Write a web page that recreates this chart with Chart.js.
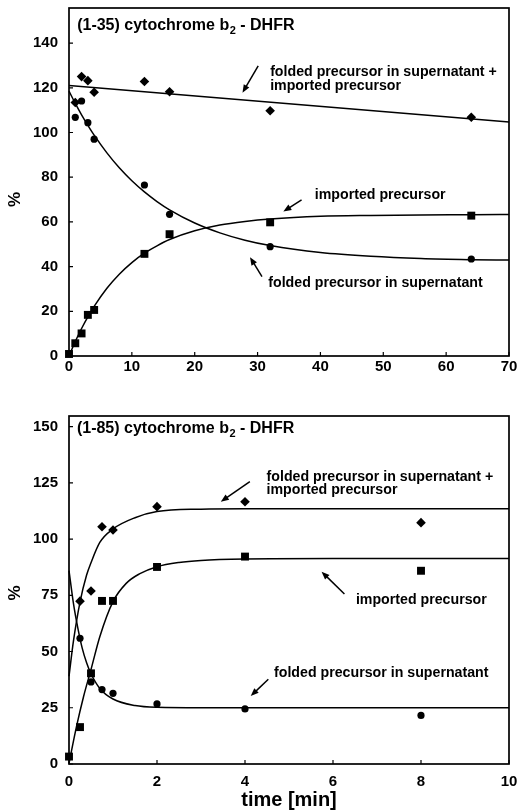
<!DOCTYPE html>
<html>
<head>
<meta charset="utf-8">
<script src="https://cdn.jsdelivr.net/npm/chart.js@4.4.0/dist/chart.umd.min.js"></script>
<style>
  html, body { margin: 0; padding: 0; background: #fff; }
  #wrap { position: relative; width: 518px; height: 812px; }
  canvas { position: absolute; left: 0; }
  #c1 { top: 0; }
  #c2 { top: 400px; }
</style>
</head>
<body>
<div id="wrap">
  <canvas id="c1" width="518" height="380"></canvas>
  <canvas id="c2" width="518" height="412"></canvas>
</div>
<script>
const FONT = '"Liberation Sans", Arial, Helvetica, sans-serif';

// ---- (1-35) cytochrome b2 - DHFR : time [min] vs %
const importedTimeA = [0, 1, 2, 3, 4, 12, 16, 32, 64];
const importedA     = [0.9, 5.7, 10.1, 18.4, 20.6, 45.7, 54.5, 59.8, 62.8];
const foldedTimeA   = [1, 2, 3, 4, 12, 16, 32, 64];
const foldedA       = [106.8, 114.1, 104.4, 97.0, 76.5, 63.4, 48.9, 43.4];
const totalTimeA    = [1, 2, 3, 4, 12, 16, 32, 64];
const totalA        = [113.4, 125.0, 123.2, 118.0, 122.8, 118.2, 109.7, 106.8];

// fitted curves
const fitTimeA       = [0, 1, 2, 3, 4, 6, 8, 10, 12, 14, 16, 20, 24, 28, 32, 40, 48, 56, 64, 70];
const importedFitA   = [0, 6.5, 12.3, 17.5, 22.2, 30.2, 36.6, 41.8, 46.0, 49.3, 52.1, 56.0, 58.6, 60.2, 61.3, 62.5, 62.9, 63.1, 63.2, 63.3];
const foldedFitA     = [118.5, 113.0, 107.9, 103.2, 98.8, 91.0, 84.2, 78.4, 73.4, 69.1, 65.4, 59.5, 55.1, 51.8, 49.4, 46.3, 44.6, 43.6, 43.1, 42.9];
const totalFitTimeA  = [0, 70];
const totalFitA      = [121.0, 104.7];

const xTicksA = [0, 10, 20, 30, 40, 50, 60, 70];
const yTicksA = [0, 20, 40, 60, 80, 100, 120, 140];

// ---- (1-85) cytochrome b2 - DHFR
const importedTimeB = [0, 0.25, 0.5, 0.75, 1, 2, 4, 8];
const importedB     = [3.3, 16.4, 40.3, 72.5, 72.5, 87.6, 92.2, 85.9];
const foldedTimeB   = [0.25, 0.5, 0.75, 1, 2, 4, 8];
const foldedB       = [55.9, 36.5, 33.1, 31.4, 26.7, 24.5, 21.6];
const totalTimeB    = [0.25, 0.5, 0.75, 1, 2, 4, 8];
const totalB        = [72.4, 76.9, 105.5, 104.0, 114.4, 116.6, 107.3];

const importedFitTimeB = [0, 0.17, 0.33, 0.5, 0.7, 1, 1.3, 1.6, 2, 2.5, 3, 4, 6, 10];
const importedFitB     = [0.3, 16.6, 29.9, 42.0, 56.6, 72.2, 80.3, 84.5, 87.7, 89.6, 90.5, 91.1, 91.3, 91.3];
const foldedFitTimeB   = [0, 0.1, 0.2, 0.3, 0.4, 0.5, 0.7, 1, 1.5, 2, 3, 10];
const foldedFitB       = [86.0, 71.5, 60.5, 51.5, 45.0, 40.1, 33.6, 28.9, 26.0, 25.2, 25.0, 25.0];
const totalFitTimeB    = [0, 0.1, 0.25, 0.4, 0.5, 0.7, 1, 1.5, 2, 3, 4, 10];
const totalFitB        = [39.0, 54.5, 72.0, 84.0, 89.5, 98.5, 104.5, 109.5, 112.2, 113.3, 113.5, 113.5];

const xTicksB = [0, 2, 4, 6, 8, 10];
const yTicksB = [0, 25, 50, 75, 100, 125, 150];

const pts = (xs, ys) => xs.map((x, i) => ({ x, y: ys[i] }));

function markers(xs, ys, style, r) {
  return {
    data: pts(xs, ys), showLine: false, pointStyle: style, pointRadius: r,
    pointBackgroundColor: '#000', pointBorderWidth: 0, clip: false
  };
}
function curve(xs, ys) {
  return {
    data: pts(xs, ys), showLine: true, pointRadius: 0, borderColor: '#000',
    borderWidth: 1.5, cubicInterpolationMode: 'monotone', fill: false, clip: false
  };
}

// frame, inward tick marks, title, y-axis symbol and arrow notes
const decor = {
  id: 'decor',
  beforeDatasetsDraw(chart, args, o) {
    const { ctx, chartArea: a, scales: { x, y } } = chart;
    ctx.save();
    ctx.strokeStyle = '#000';
    ctx.lineWidth = 1.2;
    ctx.beginPath();
    x.ticks.forEach(t => { const p = x.getPixelForValue(t.value); ctx.moveTo(p, a.bottom); ctx.lineTo(p, a.bottom - 4); });
    y.ticks.forEach(t => { const p = y.getPixelForValue(t.value); ctx.moveTo(a.left, p); ctx.lineTo(a.left + 4, p); });
    ctx.stroke();
    ctx.lineWidth = 1.7;
    ctx.strokeRect(a.left, a.top, a.right - a.left, a.bottom - a.top);
    ctx.restore();
  },
  afterDraw(chart, args, o) {
    const { ctx, scales: { x, y } } = chart;
    ctx.save();
    ctx.fillStyle = '#000';
    ctx.strokeStyle = '#000';
    // heading with subscript
    const hx = x.getPixelForValue(o.title.x), hy = y.getPixelForValue(o.title.y);
    ctx.textBaseline = 'alphabetic';
    ctx.textAlign = 'left';
    ctx.font = 'bold 16px ' + FONT;
    ctx.fillText(o.title.main, hx, hy);
    let w = ctx.measureText(o.title.main).width;
    ctx.font = 'bold 11px ' + FONT;
    ctx.fillText(o.title.sub, hx + w + 0.5, hy + 3.5);
    w += ctx.measureText(o.title.sub).width + 0.5;
    ctx.font = 'bold 16px ' + FONT;
    ctx.fillText(o.title.rest, hx + w, hy);
    // y-axis symbol
    ctx.save();
    ctx.translate(15, y.getPixelForValue(o.yTitle.y));
    ctx.rotate(-Math.PI / 2);
    ctx.font = 'bold 17px ' + FONT;
    ctx.textAlign = 'center';
    ctx.textBaseline = 'middle';
    ctx.fillText(o.yTitle.text, 0, 0);
    ctx.restore();
    // notes
    ctx.font = 'bold 14.2px ' + FONT;
    ctx.textBaseline = 'middle';
    o.notes.forEach(n => {
      const tx = x.getPixelForValue(n.x), ty = y.getPixelForValue(n.y);
      n.lines.forEach((line, i) => ctx.fillText(line, tx, ty + i * 13.5));
      const x1 = x.getPixelForValue(n.from[0]), y1 = y.getPixelForValue(n.from[1]);
      const x2 = x.getPixelForValue(n.to[0]), y2 = y.getPixelForValue(n.to[1]);
      const ang = Math.atan2(y2 - y1, x2 - x1);
      ctx.lineWidth = 1.5;
      ctx.beginPath();
      ctx.moveTo(x1, y1);
      ctx.lineTo(x2 - 5 * Math.cos(ang), y2 - 5 * Math.sin(ang));
      ctx.stroke();
      const hl = 8, hw = 3.2;
      ctx.beginPath();
      ctx.moveTo(x2, y2);
      ctx.lineTo(x2 - hl * Math.cos(ang) + hw * Math.sin(ang), y2 - hl * Math.sin(ang) - hw * Math.cos(ang));
      ctx.lineTo(x2 - hl * Math.cos(ang) - hw * Math.sin(ang), y2 - hl * Math.sin(ang) + hw * Math.cos(ang));
      ctx.closePath();
      ctx.fill();
    });
    ctx.restore();
  }
};

function makePlot(id, p) {
  const tickFont = { family: FONT, size: 15, weight: 'bold' };
  return new Chart(document.getElementById(id), {
    type: 'scatter',
    data: { datasets: p.datasets },
    options: {
      responsive: false,
      animation: false,
      events: [],
      layout: { padding: { left: 0, right: 9, top: p.top, bottom: 0 } },
      plugins: { legend: { display: false }, tooltip: { enabled: false }, decor: p.decor },
      scales: {
        x: {
          type: 'linear', min: p.xMin, max: p.xMax,
          afterBuildTicks: s => { s.ticks = p.xTicks.map(v => ({ value: v })); },
          afterFit: s => { s.height = p.xHeight; s.paddingLeft = 0; s.paddingRight = 0; },
          grid: { display: false }, border: { display: false },
          ticks: { font: tickFont, color: '#000', padding: p.xPad, maxRotation: 0, autoSkip: false },
          title: p.xTitle ? { display: true, text: p.xTitle, color: '#000',
                              font: { family: FONT, size: 20, weight: 'bold' }, padding: { top: 0, bottom: 0 } }
                          : { display: false }
        },
        y: {
          type: 'linear', min: 0, max: p.yMax,
          afterBuildTicks: s => { s.ticks = p.yTicks.map(v => ({ value: v })); },
          afterFit: s => { s.width = 69; s.paddingTop = 0; s.paddingBottom = 0; },
          grid: { display: false }, border: { display: false },
          ticks: { font: tickFont, color: '#000', padding: 3 }
        }
      }
    },
    plugins: [decor]
  });
}

makePlot('c1', {
  top: 8, xMin: 0, xMax: 70, yMax: 155.7, xTicks: xTicksA, yTicks: yTicksA, xHeight: 24, xPad: -6,
  datasets: [
    markers(importedTimeA, importedA, 'rect', 5.6),
    markers(foldedTimeA, foldedA, 'circle', 3.6),
    markers(totalTimeA, totalA, 'rectRot', 4.8),
    curve(fitTimeA, importedFitA),
    curve(fitTimeA, foldedFitA),
    curve(totalFitTimeA, totalFitA)
  ],
  decor: {
    title: { main: '(1-35) cytochrome b', sub: '2', rest: ' - DHFR', x: 1.3, y: 145.8 },
    yTitle: { text: '%', y: 70 },
    notes: [
      { lines: ['folded precursor in supernatant +', 'imported precursor'], x: 32.0, y: 127.0, from: [30.1, 129.8], to: [27.6, 117.8] },
      { lines: ['imported precursor'], x: 39.1, y: 72.1, from: [37.0, 69.8], to: [34.1, 64.6] },
      { lines: ['folded precursor in supernatant'], x: 31.7, y: 32.5, from: [30.7, 35.5], to: [28.8, 44.2] }
    ]
  }
});

makePlot('c2', {
  top: 16, xMin: 0, xMax: 10, yMax: 154.7, xTicks: xTicksB, yTicks: yTicksB, xHeight: 48, xPad: 1,
  xTitle: 'time [min]',
  datasets: [
    markers(importedTimeB, importedB, 'rect', 5.6),
    markers(foldedTimeB, foldedB, 'circle', 3.6),
    markers(totalTimeB, totalB, 'rectRot', 4.8),
    curve(importedFitTimeB, importedFitB),
    curve(foldedFitTimeB, foldedFitB),
    curve(totalFitTimeB, totalFitB)
  ],
  decor: {
    title: { main: '(1-85) cytochrome b', sub: '2', rest: ' - DHFR', x: 0.18, y: 147.1 },
    yTitle: { text: '%', y: 76 },
    notes: [
      { lines: ['folded precursor in supernatant +', 'imported precursor'], x: 4.49, y: 127.7, from: [4.11, 125.5], to: [3.45, 116.6] },
      { lines: ['imported precursor'], x: 6.52, y: 72.9, from: [6.26, 75.6], to: [5.74, 85.5] },
      { lines: ['folded precursor in supernatant'], x: 4.66, y: 40.3, from: [4.53, 37.7], to: [4.13, 30.2] }
    ]
  }
});
</script>
</body>
</html>
